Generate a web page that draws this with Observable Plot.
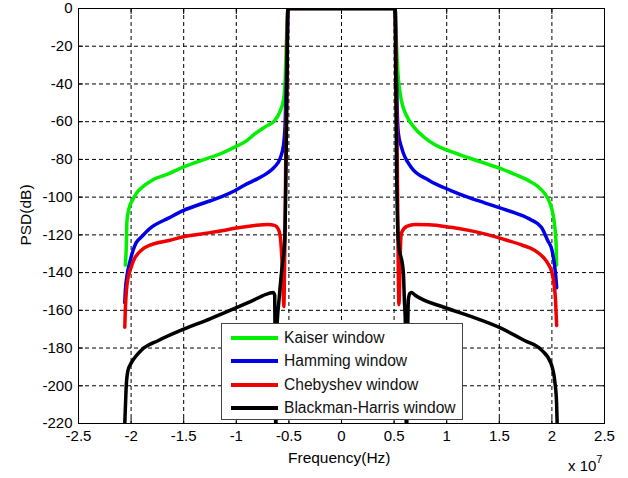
<!DOCTYPE html>
<html><head><meta charset="utf-8">
<script src="https://cdn.jsdelivr.net/npm/d3@7"></script>
<script src="https://cdn.jsdelivr.net/npm/@observablehq/plot@0.6"></script>
<style>
body{margin:0;background:#fff;font-family:"Liberation Sans",Arial,sans-serif;}
#wrap{position:relative;width:628px;height:478px;overflow:hidden;background:#fff;}
#wrap svg{position:absolute;left:0;top:0;}
.lbl{position:absolute;font-size:15px;color:#000;white-space:nowrap;}
#legend{position:absolute;left:221px;top:323px;width:240px;height:95px;border:1px solid #444;background:#fff;}
.lrow{position:absolute;left:0;height:20px;width:240px;}
.lsw{position:absolute;left:9px;top:8px;width:47px;height:4px;}
.ltx{position:absolute;left:62px;top:0;font-size:15.6px;line-height:20px;color:#111;white-space:nowrap;}
</style></head><body><div id="wrap"></div>
<script>
// Tick values (frequency in units of 1e7 Hz) and labels
const xTicks = [-2.5,-2,-1.5,-1,-0.5,0,0.5,1,1.5,2,2.5];
const xTickLabels = ["-2.5","-2","-1.5","-1","-0.5","0","0.5","1","1.5","2","2.5"];
const yTicks = [0,-20,-40,-60,-80,-100,-120,-140,-160,-180,-200,-220];
const yTickLabels = ["0","-20","-40","-60","-80","-100","-120","-140","-160","-180","-200","-220"];

const seriesNames = ["Kaiser window","Hamming window","Chebyshev window","Blackman-Harris window"];
const seriesColors = ["#00f000","#0000e6","#f00000","#000000"];

// Kaiser window (frequency x1e7 Hz, PSD dB)
const kaiserF = [-2.055,-2.045,-2.04,-2.02,-1.99,-1.95,-1.90,-1.80,-1.64,-1.5,-1.33,-1.15,-1.015,-0.9,-0.825,-0.72,-0.636,-0.58,-0.55,-0.535,-0.525,-0.515,-0.51,
  0.51,0.52,0.535,0.55,0.57,0.62,0.69,0.78,0.88,1.0,1.20,1.36,1.52,1.65,1.77,1.87,1.93,1.98,2.01,2.03,2.04,2.045];
const kaiserPSD = [-136,-125,-113,-106,-102,-98,-95,-91,-87.5,-84,-80.5,-77,-73.5,-70,-66.5,-62.5,-59.5,-54,-48,-38,-20,-5,0,
  0,-15,-33,-42,-49,-57,-63,-68,-72,-75,-79,-82,-85,-88,-91,-94.5,-98,-103,-109,-117,-125,-136];

// Hamming window
const hammingF = [-2.06,-2.055,-2.04,-2.01,-1.98,-1.95,-1.9,-1.83,-1.64,-1.5,-1.33,-1.15,-1.015,-0.9,-0.825,-0.7,-0.636,-0.58,-0.55,-0.535,-0.525,-0.515,-0.51,
  0.51,0.52,0.53,0.54,0.57,0.66,0.83,1.04,1.2,1.36,1.52,1.68,1.80,1.90,1.96,2.0,2.02,2.035,2.045];
const hammingPSD = [-156,-150,-142,-134,-128,-124,-121,-117,-111,-107,-103.5,-100,-96.6,-93,-91,-87,-84,-79,-72,-60,-40,-15,0,
  0,-30,-55,-66,-73.5,-84,-91,-96.5,-100,-103,-106,-109,-112,-116,-123,-128,-134,-141,-148];

// Chebyshev window
const chebF = [-2.06,-2.055,-2.045,-2.03,-2.01,-1.98,-1.9,-1.8,-1.64,-1.5,-1.33,-1.15,-1.015,-0.825,-0.7,-0.636,-0.6,-0.58,-0.565,-0.555,-0.548,-0.542,-0.535,-0.53,-0.52,-0.51,
  0.51,0.52,0.53,0.535,0.54,0.546,0.552,0.558,0.565,0.57,0.62,0.70,0.83,1.04,1.2,1.36,1.58,1.72,1.83,1.92,1.96,2.0,2.02,2.035,2.045];
const chebPSD = [-169,-160,-150,-143,-139,-134,-128,-125,-123,-121,-119.5,-118,-116.5,-115,-114.5,-115,-117,-122,-135,-150,-158,-140,-110,-80,-40,0,
  0,-40,-80,-110,-140,-157,-148,-132,-121,-119,-115.5,-114.5,-114.6,-116,-117.5,-119.5,-123,-125.5,-128,-132,-135,-140,-146,-155,-168];

// Blackman-Harris window
const bhF = [-2.06,-2.05,-2.045,-2.03,-2.0,-1.95,-1.9,-1.74,-1.5,-1.25,-1.015,-0.85,-0.69,-0.65,-0.635,-0.628,-0.624,-0.618,-0.59,-0.565,-0.54,-0.53,-0.52,-0.513,-0.51,
  0.51,0.513,0.525,0.54,0.588,0.598,0.607,0.612,0.618,0.625,0.636,0.65,0.664,0.7,0.98,1.2,1.52,1.74,1.90,1.99,2.03,2.045,2.05];
const bhPSD = [-220,-205,-199,-192,-188,-184,-181,-176,-170,-164.5,-159,-155,-151,-150.5,-152,-200,-230,-175,-152,-137,-123,-95,-50,-10,0,
  0,-20,-90,-123,-140,-155,-167,-200,-230,-190,-154,-151,-150.5,-152,-158.5,-162.7,-169.6,-176,-181,-188,-198.7,-210,-220];

const seriesF = [kaiserF, hammingF, chebF, bhF];
const seriesPSD = [kaiserPSD, hammingPSD, chebPSD, bhPSD];

const lineMarks = seriesNames.map((name, k) =>
  Plot.line(seriesF[k].map((f, i) => ({f, psd: seriesPSD[k][i]})),
    {x: "f", y: "psd", stroke: seriesColors[k], strokeWidth: 3.5, clip: true, curve: "monotone-x", strokeLinejoin: "round"}));

const chart = Plot.plot({
  width: 628, height: 478,
  marginLeft: 78, marginRight: 24, marginTop: 8, marginBottom: 55,
  x: {domain: [-2.5, 2.5]},
  y: {domain: [-220, 0]},
  style: {fontFamily: "Liberation Sans, Arial, sans-serif", fontSize: "15px", color: "#000", background: "#fff"},
  marks: [
    Plot.gridX(xTicks, {stroke: "#000", strokeOpacity: 1, strokeWidth: 1, strokeDasharray: "4,3"}),
    Plot.gridY(yTicks, {stroke: "#000", strokeOpacity: 1, strokeWidth: 1, strokeDasharray: "4,3"}),
    ...lineMarks,
    Plot.frame({stroke: "#000", strokeWidth: 1}),
    Plot.axisX(xTicks, {anchor: "bottom", tickSize: 0, tickPadding: 7, tickFormat: d => xTickLabels[xTicks.indexOf(d)], label: null}),
    Plot.axisY(yTicks, {anchor: "left", tickSize: 0, tickPadding: 6, tickFormat: d => yTickLabels[yTicks.indexOf(d)], label: null}),
    Plot.axisX(xTicks, {anchor: "bottom", tickSize: -5, tickFormat: () => "", label: null}),
    Plot.axisX(xTicks, {anchor: "top", tickSize: -5, tickFormat: () => "", label: null}),
    Plot.axisY(yTicks, {anchor: "left", tickSize: -5, tickFormat: () => "", label: null}),
    Plot.axisY(yTicks, {anchor: "right", tickSize: -5, tickFormat: () => "", label: null})
  ]
});

const wrap = document.getElementById("wrap");
wrap.appendChild(chart);

function addLabel(text, css) {
  const d = document.createElement("div");
  d.className = "lbl";
  d.innerHTML = text;
  Object.assign(d.style, css);
  wrap.appendChild(d);
  return d;
}
addLabel("Frequency(Hz)", {left: "288px", top: "449px", fontSize: "15.5px"});
addLabel("PSD(dB)", {left: "-5px", top: "206px", transform: "rotate(-90deg)", transformOrigin: "center", fontSize: "15.5px"});
addLabel("x 10<sup style='font-size:11px;position:relative;top:-2px'>7</sup>", {left: "568px", top: "455px"});

const legend = document.createElement("div");
legend.id = "legend";
seriesNames.forEach((name, k) => {
  const row = document.createElement("div");
  row.className = "lrow";
  row.style.top = (4 + k * 23.3) + "px";
  const sw = document.createElement("div");
  sw.className = "lsw";
  sw.style.background = seriesColors[k];
  const tx = document.createElement("div");
  tx.className = "ltx";
  tx.textContent = name;
  row.appendChild(sw); row.appendChild(tx);
  legend.appendChild(row);
});
wrap.appendChild(legend);
</script>
</body></html>
